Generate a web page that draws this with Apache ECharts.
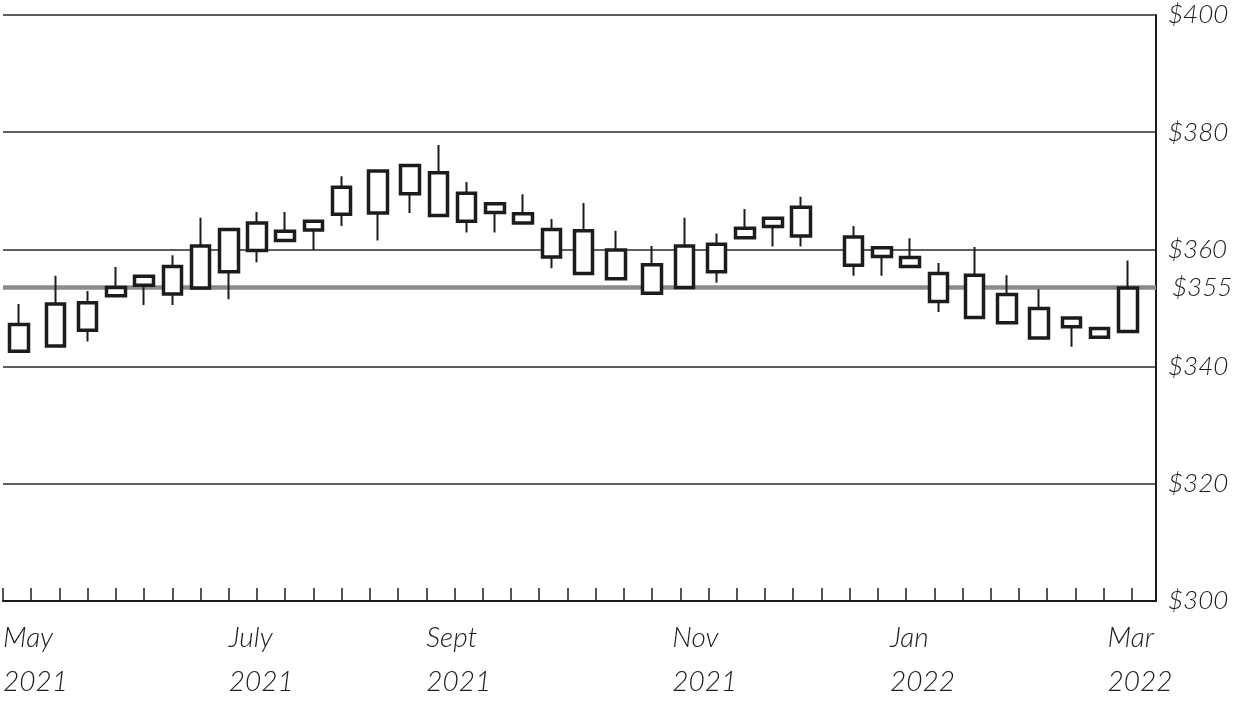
<!DOCTYPE html>
<html><head><meta charset="utf-8">
<script src="https://cdn.jsdelivr.net/npm/echarts@6/dist/echarts.min.js"></script>
<style>html,body{margin:0;padding:0;background:#fff}#c{width:1241px;height:703px}</style>
</head><body><div id="c"></div>
<script>
// Session day offsets from the start of the chart (weekly candles)
const dayIndex = [4,13,21,28,35,42,49,56,63,70,77,84,93,101,108,115,122,129,136,144,152,161,169,177,184,191,198,211,218,225,232,241,249,257,265,272,279];
const opens  = [342.6,343.5,346.2,352.1,353.9,352.4,353.4,356.2,359.8,361.5,363.3,366.0,366.2,369.5,373.1,369.6,367.8,366.1,363.4,363.2,359.9,357.4,353.5,356.2,362.0,363.9,362.3,362.1,360.3,358.6,355.9,355.6,352.3,349.9,346.8,346.5,346.0];
const closes = [347.2,350.7,350.9,353.5,355.4,357.1,360.6,363.4,364.5,363.1,364.8,370.6,373.4,374.3,365.8,364.8,366.3,364.5,358.7,355.9,355.0,352.5,360.6,360.9,363.6,365.3,367.2,357.3,358.8,357.1,351.1,348.4,347.5,344.9,348.3,345.0,353.4];
const lows   = [342.6,343.5,344.3,352.1,350.5,350.5,353.4,351.5,357.8,361.5,359.9,364.0,361.5,366.2,365.8,362.9,362.9,364.5,356.8,355.9,355.0,352.5,353.5,354.3,362.0,360.5,360.5,355.5,355.5,357.1,349.3,348.4,347.5,344.9,343.4,345.0,346.0];
const highs  = [350.7,355.5,352.9,357.0,355.4,359.0,365.4,363.4,366.4,366.4,364.8,372.5,373.4,374.3,377.8,371.5,367.8,369.4,365.2,367.9,363.2,360.6,365.4,362.7,366.9,365.3,369.0,364.0,360.3,361.9,357.7,360.4,355.6,353.2,348.3,346.5,358.1];

// Axis labels and ticks
const monthLabelDays = [0,56,105,166,220,274];
const monthLabels = ['May\n2021','July\n2021','Sept\n2021','Nov\n2021','Jan\n2022','Mar\n2022'];
const weekTickCount = 41;
const yTicks = [300,320,340,360,380,400];
const refValue = 353.5;
const refLabel = '$355';

const tickDays = [];
for (let k = 0; k < weekTickCount; k++) tickDays.push(k * 7);

const full = dayIndex.map((d,i)=>[d, opens[i], closes[i], lows[i], highs[i]]);
const bodies = dayIndex.map((d,i)=>[d, opens[i], closes[i], Math.min(opens[i],closes[i]), Math.max(opens[i],closes[i])]);

const FONT = 'Lato';
const ink = '#1c1c1c';

const chart = echarts.init(document.getElementById('c'), null, {renderer:'canvas'});
chart.setOption({
  animation: false,
  backgroundColor: '#ffffff',
  grid: {left: 3, right: 85, top: 15, bottom: 102, containLabel: false, outerBoundsMode: 'none'},
  xAxis: {
    type: 'value', min: 0, max: 286,
    axisLine: {show: true, onZero: false, lineStyle: {color: ink, width: 2}},
    axisTick: {show: true, inside: true, length: 13, customValues: tickDays, lineStyle: {color: ink, width: 1.5}},
    axisLabel: {
      show: true, customValues: monthLabelDays, align: 'left', margin: 15,
      fontFamily: FONT, fontStyle: 'italic', fontWeight: 300, fontSize: 28, lineHeight: 44, color: ink,
      formatter: v => { const i = monthLabelDays.indexOf(v); return i >= 0 ? monthLabels[i] : ''; }
    },
    splitLine: {show: false}
  },
  yAxis: {
    type: 'value', position: 'right', min: yTicks[0], max: yTicks[yTicks.length-1], interval: 20,
    axisLine: {show: true, onZero: false, lineStyle: {color: ink, width: 2}},
    axisTick: {show: false},
    axisLabel: {show: true, margin: 12, fontFamily: FONT, fontStyle: 'italic', fontWeight: 300, fontSize: 26, color: ink,
      formatter: v => '$' + v},
    splitLine: {show: true, lineStyle: {color: '#2a2a2a', width: 1.5}}
  },
  series: [
    {
      type: 'candlestick', data: full, encode: {x: 0, y: [1,2,3,4]}, barWidth: 19, z: 3, clip: false,
      itemStyle: {color: '#fff', color0: '#fff', borderColor: ink, borderColor0: ink, borderWidth: 2},
      markLine: {
        silent: true, symbol: ['none','none'], z: 2,
        lineStyle: {color: '#8c8c8c', width: 4.5, type: 'solid'},
        label: {show: true, position: 'end', distance: 16, formatter: refLabel, fontFamily: FONT, fontStyle: 'italic', fontWeight: 300, fontSize: 26, color: ink},
        data: [{yAxis: refValue}]
      }
    },
    {
      type: 'candlestick', data: bodies, encode: {x: 0, y: [1,2,3,4]}, barWidth: 19, z: 4,
      itemStyle: {color: '#fff', color0: '#fff', borderColor: ink, borderColor0: ink, borderWidth: 3.5}
    }
  ]
});
</script></body></html>
